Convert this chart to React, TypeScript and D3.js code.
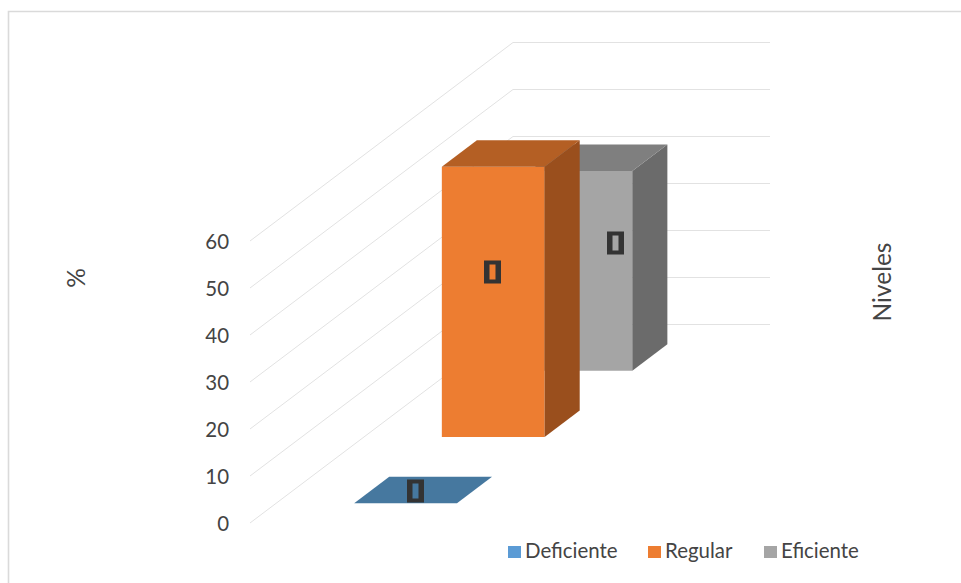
import React from "react";
import * as d3 from "d3";

const seriesNames = ["Deficiente", "Regular", "Eficiente"];
const seriesValues = [0, 57.5, 42.5];
const axisTicks = [0, 10, 20, 30, 40, 50, 60];

const frontColors = ["#5B9BD5", "#ED7D31", "#A5A5A5"];
const topColors = ["#46789F", "#B45F24", "#7F7F7F"];
const sideColors = ["#3A6484", "#9A4F1D", "#6B6B6B"];

const WIDTH = 961;
const HEIGHT = 583;
const FONT = "Lato, 'Open Sans', sans-serif";
const TEXT = "#444444";
const GRID = "#E2E2E2";
const NARROW = 0.93;

// Oblique projection: the front floor corner is at (250, 523), depth runs up and to the right.
const originX = 250;
const originY = 523;
const depthDX = 263;
const depthDY = -198.5;

const widthScale = d3.scaleLinear().domain([0, 1]).range([0, 257]);
const valueScale = d3.scaleLinear().domain([0, 60]).range([0, 282]);
const depthScale = d3
  .scaleBand<string>()
  .domain(seriesNames)
  .range([0, 1])
  .paddingInner(0.6)
  .paddingOuter(0.3);

const project = (u: number, t: number, v: number): [number, number] => [
  originX + widthScale(u) + t * depthDX,
  originY - valueScale(v) + t * depthDY,
];

const poly = (pts: [number, number][]) => (d3.line()(pts) ?? "") + "Z";

// Bars fill 40% of the single category slot.
const barLeft = 0.303;
const barRight = 0.703;

// Where each value marker sits relative to the bar's front-face centre.
const markerShift: [number, number][] = [
  [9.5, -12.5],
  [-1.5, -30],
  [34, -28],
];

function Bar({ index }: { index: number }) {
  const name = seriesNames[index];
  const v = seriesValues[index];
  const t0 = depthScale(name) ?? 0;
  const t1 = t0 + depthScale.bandwidth();
  const a = project(barLeft, t0, 0);
  const b = project(barRight, t0, 0);
  const c = project(barRight, t0, v);
  const d = project(barLeft, t0, v);
  const e = project(barRight, t1, 0);
  const f = project(barRight, t1, v);
  const g = project(barLeft, t1, v);
  const cx = Math.round((a[0] + b[0]) / 2 + markerShift[index][0]) + 0.5;
  const cy = Math.round((a[1] + d[1]) / 2 + markerShift[index][1]);
  return (
    <g>
      {v > 0 && <path d={poly([a, b, c, d])} fill={frontColors[index]} />}
      {v > 0 && <path d={poly([b, e, f, c])} fill={sideColors[index]} />}
      <path d={poly([d, c, f, g])} fill={topColors[index]} />
      <path
        d={`M${cx - 8.5},${cy - 11.5}h17v23h-17Z M${cx - 3},${cy - 7.5}v15h6v-15Z`}
        fill="#333333"
        fillRule="evenodd"
      />
    </g>
  );
}

export default function App() {
  const legendX = [508, 648, 764];
  return (
    <svg
      width={WIDTH}
      height={HEIGHT}
      style={{ position: "absolute", left: 0, top: 0, display: "block", background: "#fff" }}
    >
      <path d={`M8.5,${HEIGHT}V11.5H${WIDTH}`} fill="none" stroke="#DADADA" strokeWidth={1.6} />

      {axisTicks.map((tick) => {
        const p0 = project(0, 0, tick);
        const p1 = project(0, 1, tick);
        const p2 = project(1, 1, tick);
        return (
          <g key={tick}>
            <path d={d3.line()([p0, p1, p2]) ?? ""} fill="none" stroke={GRID} strokeWidth={1} />
            <text
              transform={`translate(229,${p0[1] + 7.5}) scale(${NARROW},1)`}
              textAnchor="end"
              fontFamily={FONT}
              fontSize={22}
              fill={TEXT}
            >
              {tick}
            </text>
          </g>
        );
      })}

      {[2, 1, 0].map((i) => (
        <Bar key={seriesNames[i]} index={i} />
      ))}

      <text
        transform="translate(85,278) rotate(-90)"
        textAnchor="middle"
        fontFamily={FONT}
        fontSize={24.5}
        fill={TEXT}
      >
        %
      </text>
      <text
        transform="translate(891,282) rotate(-90)"
        textAnchor="middle"
        fontFamily={FONT}
        fontSize={24.5}
        fill={TEXT}
      >
        Niveles
      </text>

      {seriesNames.map((name, i) => (
        <g key={name}>
          <rect x={legendX[i]} y={546} width={13} height={12} fill={frontColors[i]} />
          <text
            transform={`translate(${legendX[i] + 17},558) scale(${NARROW},1)`}
            fontFamily={FONT}
            fontSize={22}
            fill={TEXT}
          >
            {name}
          </text>
        </g>
      ))}
    </svg>
  );
}
